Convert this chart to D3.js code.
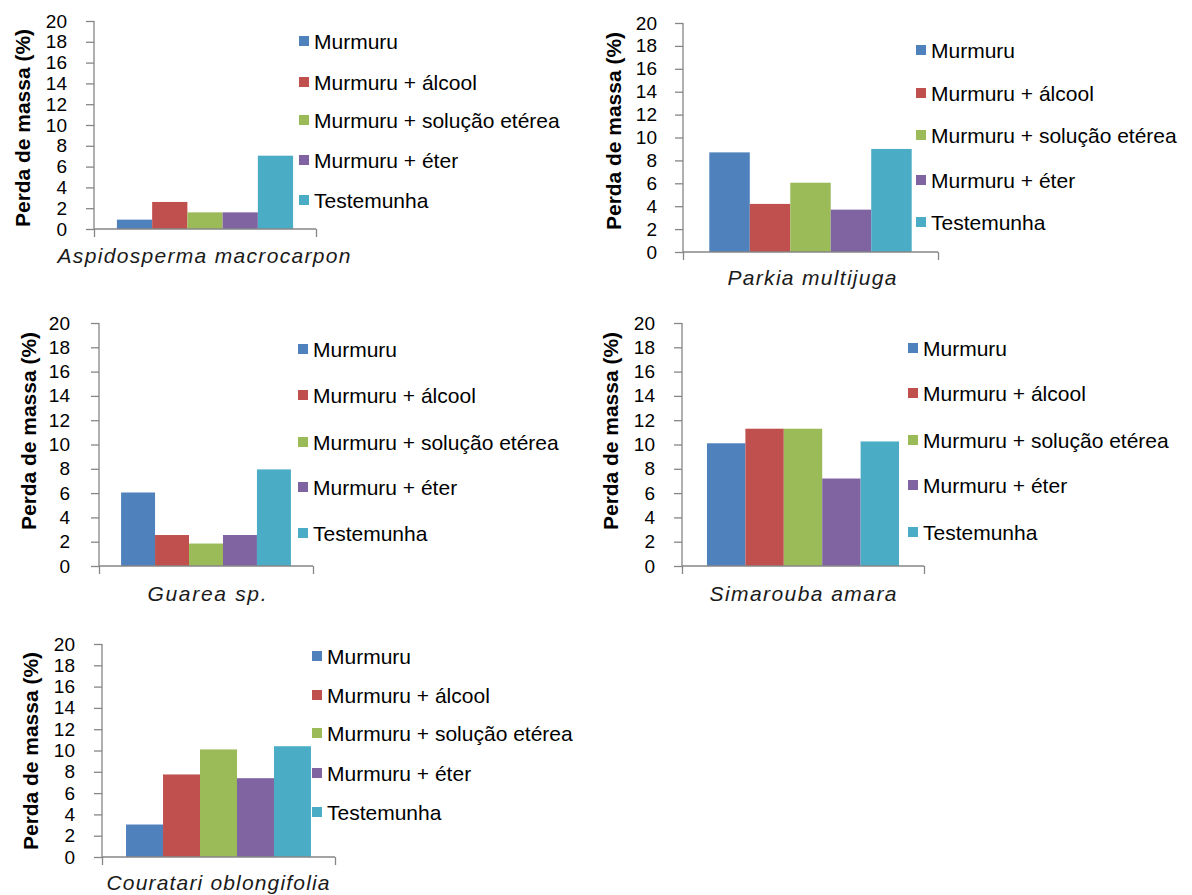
<!DOCTYPE html>
<html>
<head>
<meta charset="utf-8">
<script src="https://cdn.jsdelivr.net/npm/d3@7/dist/d3.min.js"></script>
<style>
  html, body { margin: 0; padding: 0; background: #ffffff; }
  svg { display: block; }
  text { font-family: "Liberation Sans", Arial, sans-serif; }
</style>
</head>
<body>
<svg id="chart" width="1192" height="895"></svg>
<script>
// Mass loss (%) of wood samples by species and treatment
const species = [
  "Aspidosperma macrocarpon",
  "Parkia multijuga",
  "Guarea sp.",
  "Simarouba amara",
  "Couratari oblongifolia"
];
const treatments = [
  "Murmuru",
  "Murmuru + álcool",
  "Murmuru + solução etérea",
  "Murmuru + éter",
  "Testemunha"
];
const aspidospermaLoss = [0.9, 2.6, 1.6, 1.6, 7.05];
const parkiaLoss       = [8.7, 4.2, 6.05, 3.7, 9.0];
const guareaLoss       = [6.05, 2.55, 1.85, 2.55, 7.95];
const simaroubaLoss    = [10.1, 11.3, 11.3, 7.2, 10.25];
const courataraLoss    = [3.05, 7.75, 10.1, 7.4, 10.4];
const yTickValues = [0, 2, 4, 6, 8, 10, 12, 14, 16, 18, 20];
const yMax = 20;
const yTitle = "Perda de massa (%)";

const lossBySpecies = [aspidospermaLoss, parkiaLoss, guareaLoss, simaroubaLoss, courataraLoss];
const colors = ["#4F81BD", "#C0504D", "#9BBB59", "#8064A2", "#4BACC6"];

// Placement of each small chart on the page
const panels = [
  { x0: 94,  x1: 316, yTop: 21,  yBot: 229, titleX: 22,  titleCy: 128, catX: 204, catY: 263, catW: 293,
    legX: 298, legRows: [41, 82, 120, 160, 200], labelGap: 27 },
  { x0: 683, x1: 938, yTop: 23,  yBot: 252, titleX: 613, titleCy: 131, catX: 812, catY: 285, catW: 169,
    legX: 915, legRows: [50, 93, 135, 180, 222], labelGap: 26 },
  { x0: 99,  x1: 313, yTop: 323, yBot: 566, titleX: 28,  titleCy: 431, catX: 207, catY: 601, catW: 119,
    legX: 297, legRows: [349, 395, 442, 487, 533], labelGap: 29 },
  { x0: 682, x1: 924, yTop: 323, yBot: 566, titleX: 610, titleCy: 431, catX: 803, catY: 601, catW: 187,
    legX: 907, legRows: [348, 393, 440, 485, 532], labelGap: 27 },
  { x0: 102, x1: 335, yTop: 644, yBot: 857, titleX: 30,  titleCy: 751, catX: 218, catY: 890, catW: 223,
    legX: 311, legRows: [656, 695, 733, 773, 812], labelGap: 27 }
];

const svg = d3.select("#chart");
const axisColor = "#868686";

species.forEach((name, i) => {
  const p = panels[i];
  const values = lossBySpecies[i];
  const g = svg.append("g");

  const y = d3.scaleLinear().domain([0, yMax]).range([p.yBot, p.yTop]);
  const outer = d3.scaleBand().domain([name]).range([p.x0, p.x1]).paddingInner(0).paddingOuter(0.13);
  const inner = d3.scaleBand().domain(treatments).range([0, outer.bandwidth()]).padding(0);

  // bars
  g.append("g").selectAll("rect")
    .data(treatments.map((t, k) => ({ t, v: values[k], c: colors[k] })))
    .join("rect")
    .attr("x", d => outer(name) + inner(d.t))
    .attr("y", d => y(d.v))
    .attr("width", inner.bandwidth())
    .attr("height", d => y(0) - y(d.v))
    .attr("fill", d => d.c);

  // y axis
  const yAxis = d3.axisLeft(y).tickValues(yTickValues).tickSize(8).tickPadding(p.labelGap - 8).tickFormat(d3.format("d"));
  const ya = g.append("g").attr("transform", `translate(${p.x0},0)`).call(yAxis);
  ya.select(".domain").attr("stroke", axisColor).attr("stroke-width", 1.3).attr("d", `M0,${p.yTop}V${p.yBot}`);
  ya.selectAll(".tick line").attr("stroke", axisColor).attr("stroke-width", 1.3);
  ya.selectAll(".tick text")
    .attr("fill", "#000")
    .style("font-size", "19px")
    .style("font-family", "'Liberation Sans', Arial, sans-serif");

  // x axis (baseline with end ticks)
  const xa = d3.axisBottom(d3.scaleLinear().domain([0, 1]).range([p.x0, p.x1])).tickValues([0, 1]).tickSize(8).tickFormat("");
  const xg = g.append("g").attr("transform", `translate(0,${p.yBot})`).call(xa);
  xg.select(".domain").attr("stroke", axisColor).attr("stroke-width", 1.3).attr("d", `M${p.x0},0H${p.x1}`);
  xg.selectAll(".tick line").attr("stroke", axisColor).attr("stroke-width", 1.3);

  // y title
  g.append("text")
    .attr("transform", `translate(${p.titleX},${p.titleCy}) rotate(-90)`)
    .attr("text-anchor", "middle")
    .attr("dominant-baseline", "central")
    .attr("font-weight", "bold")
    .attr("font-size", 21)
    .attr("textLength", 198)
    .attr("lengthAdjust", "spacingAndGlyphs")
    .attr("fill", "#000")
    .text(yTitle);

  // category label
  g.append("text")
    .attr("x", p.catX)
    .attr("y", p.catY)
    .attr("text-anchor", "middle")
    .attr("font-style", "italic")
    .attr("font-size", 21)
    .attr("textLength", p.catW)
    .attr("lengthAdjust", "spacing")
    .attr("fill", "#1a1a1a")
    .text(name);

  // legend
  const leg = g.append("g").selectAll("g")
    .data(treatments)
    .join("g")
    .attr("transform", (d, k) => `translate(${p.legX},${p.legRows[k]})`);
  leg.append("rect")
    .attr("x", 1).attr("y", -5).attr("width", 10).attr("height", 10)
    .attr("fill", (d, k) => colors[k]);
  leg.append("text")
    .attr("x", 16).attr("y", 0)
    .attr("dominant-baseline", "central")
    .attr("font-size", 21)
    .attr("fill", "#000")
    .text(d => d);
});
</script>
</body>
</html>
